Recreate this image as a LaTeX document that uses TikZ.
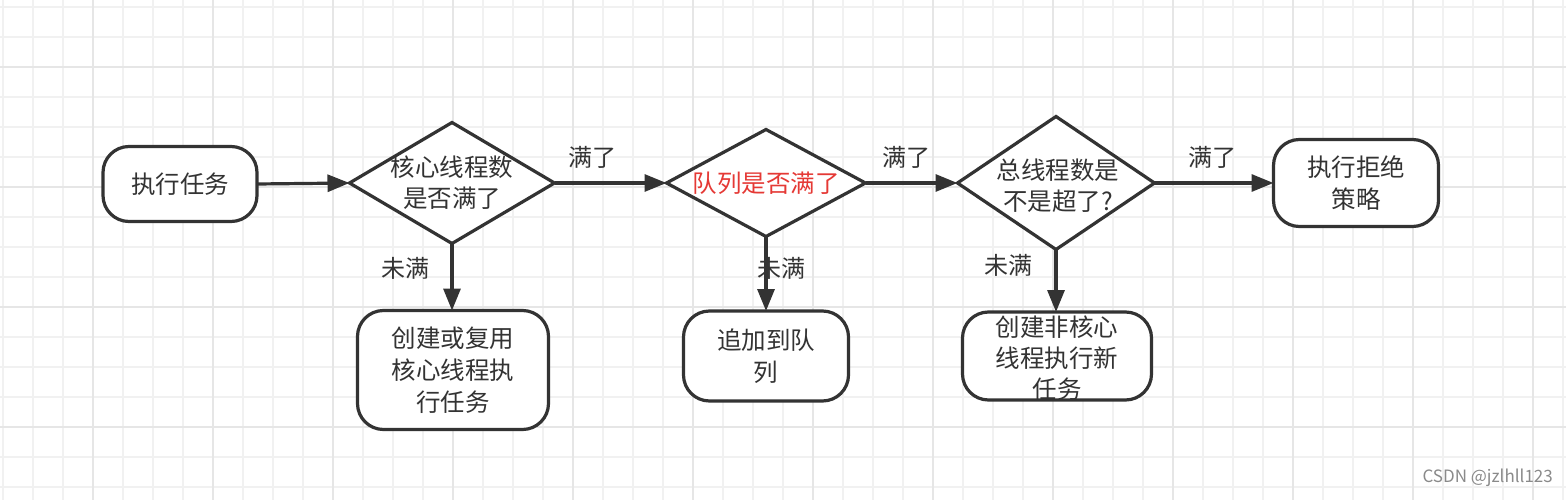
\documentclass[tikz,border=0pt]{standalone}
\usepackage{fontspec}
\setmainfont{Noto Sans CJK SC}
\usetikzlibrary{shapes.geometric,arrows.meta}
\definecolor{ln}{HTML}{333333}
\definecolor{gridminor}{HTML}{F1F1F1}
\definecolor{gridmajor}{HTML}{E6E6E6}
\definecolor{redtxt}{HTML}{E53935}
\definecolor{wm}{HTML}{8A8A8A}
\tikzset{
  box/.style={draw=ln, line width=3.2pt, rounded corners=26pt, inner sep=0pt, outer sep=0pt, fill=white, align=center, font=\fontsize{24.5}{32}\selectfont, text=ln},
  dia/.style={draw=ln, line width=3.2pt, diamond, inner sep=0pt, outer sep=0pt, fill=white},
  dtext/.style={align=center, font=\fontsize{24.5}{31}\selectfont, text=ln},
  lbl/.style={font=\fontsize{24}{28}\selectfont, text=ln, inner sep=0pt},
  conn/.style={draw=ln, line width=3.2pt, -{Triangle[length=22pt,width=17pt]}},
}
\begin{document}
\begin{tikzpicture}[x=1pt,y=-1pt]
\useasboundingbox (0,0) rectangle (1566,500);
\fill[white] (0,0) rectangle (1566,500);
% grid
\foreach \i in {0,...,52} {\draw[gridminor, line width=1.2pt] (3+30*\i,0) -- (3+30*\i,500);}
\foreach \i in {0,...,16} {\draw[gridminor, line width=1.2pt] (0,7+30*\i) -- (1566,7+30*\i);}
\foreach \i in {0,...,12} {\draw[gridmajor, line width=1.6pt] (93+120*\i,0) -- (93+120*\i,500);}
\foreach \i in {0,...,3} {\draw[gridmajor, line width=1.6pt] (0,67+120*\i) -- (1566,67+120*\i);}

% nodes
\node[box, minimum width=154pt, minimum height=75pt] (start) at (180,184) {执行任务};
\node[dia, minimum width=205pt, minimum height=121pt] (d1) at (452,183) {};
\node[dtext] (d1t) at (452,183) {核心线程数\\是否满了};
\node[box, minimum width=191pt, minimum height=119pt] (b1) at (453,370) {创建或复用\\核心线程执\\行任务};

\node[dia, minimum width=199pt, minimum height=107pt] (d2) at (766,183) {};
\node[dtext, text=redtxt] (d2t) at (766,183) {队列是否满了};
\node[box, minimum width=165pt, minimum height=90pt] (b2) at (766,356) {追加到队\\列};

\node[dia, minimum width=197pt, minimum height=133pt] (d3) at (1056,183) {};
\node[dtext] (d3t) at (1058,186) {总线程数是\\不是超了?};
\node[box, minimum width=189pt, minimum height=88pt] (b3) at (1057,356) {};
\node[dtext] (b3t) at (1057,358) {创建非核心\\线程执行新\\任务};

\node[box, minimum width=165pt, minimum height=87pt] (rej) at (1356,183) {执行拒绝\\策略};

% connectors
\draw[conn] (start.east) -- (d1.west);
\draw[conn] (d1.east) -- (d2.west);
\draw[conn] (d2.east) -- (d3.west);
\draw[conn] (d3.east) -- (rej.west |- d3.east);
\draw[conn] (d1.south) -- (b1.north -| d1.south);
\draw[conn] (d2.south) -- (b2.north -| d2.south);
\draw[conn] (d3.south) -- (b3.north -| d3.south);

% labels
\node[lbl] (l1) at (592,157) {满了};
\node[lbl] (l2) at (906,157) {满了};
\node[lbl] (l3) at (1212,157) {满了};
\node[lbl] (u1) at (405,268) {未满};
\node[lbl] (u2) at (781,268) {未满};
\node[lbl] (u3) at (1008,265) {未满};

\node[font=\fontsize{17}{20}\selectfont, text=wm, anchor=east, inner sep=0pt] (wm) at (1553,478) {CSDN @jzlhll123};
\end{tikzpicture}
\end{document}
